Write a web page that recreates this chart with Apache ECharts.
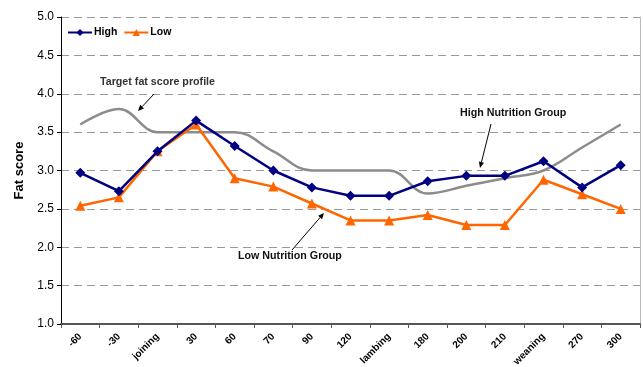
<!DOCTYPE html>
<html>
<head>
<meta charset="utf-8">
<script src="https://cdn.jsdelivr.net/npm/echarts@6/dist/echarts.min.js"></script>
<style>
html,body{margin:0;padding:0;background:#fff;}
#c{width:643px;height:367px;}
</style>
</head>
<body>
<div id="c"></div>
<script>
const categories = ['-60','-30','joining','30','60','70','90','120','lambing','180','200','210','weaning','270','300'];
const highValues = [2.97, 2.73, 3.25, 3.65, 3.32, 3.00, 2.78, 2.67, 2.67, 2.86, 2.93, 2.93, 3.12, 2.78, 3.07];
const lowValues  = [2.54, 2.65, 3.25, 3.60, 2.90, 2.79, 2.57, 2.35, 2.35, 2.42, 2.29, 2.29, 2.88, 2.69, 2.50];
const targetValues = [3.60, 3.80, 3.50, 3.50, 3.50, 3.25, 3.00, 3.00, 3.00, 2.70, 2.80, 2.90, 3.00, 3.30, 3.60];
const yTicks = ['1.0','1.5','2.0','2.5','3.0','3.5','4.0','4.5','5.0'];

const FONT = '"Liberation Sans", Arial, sans-serif';

function arrow(x1, y1, x2, y2) {
  const ang = Math.atan2(y2 - y1, x2 - x1);
  const L = 6, W = 2.6;
  const bx = x2 - L * Math.cos(ang), by = y2 - L * Math.sin(ang);
  const px = -Math.sin(ang) * W, py = Math.cos(ang) * W;
  return [
    { type: 'line', shape: { x1: x1, y1: y1, x2: bx, y2: by }, style: { stroke: '#000', lineWidth: 1 }, z: 100 },
    { type: 'polygon', shape: { points: [[x2, y2], [bx + px, by + py], [bx - px, by - py]] }, style: { fill: '#000' }, z: 100 }
  ];
}

const chart = echarts.init(document.getElementById('c'), null, { renderer: 'canvas' });
chart.setOption({
  animation: false,
  backgroundColor: '#fff',
  textStyle: { fontFamily: FONT },
  grid: { left: 61, right: 3, top: 17, bottom: 43, containLabel: false, outerBoundsMode: 'none', show: false },
  legend: {
    data: ['High', 'Low'],
    left: 67, top: 27, padding: 0,
    itemWidth: 24, itemHeight: 9, itemGap: 6,
    textStyle: { fontFamily: FONT, fontWeight: 'bold', fontSize: 10.5, color: '#000', padding: [0, 0, 0, -3] }
  },
  xAxis: {
    type: 'category',
    data: categories,
    boundaryGap: true,
    axisLine: { lineStyle: { color: '#555', width: 2 } },
    axisTick: { show: true, alignWithLabel: false, length: 4, lineStyle: { color: '#555', width: 1 } },
    axisLabel: { rotate: 45, fontSize: 10, fontWeight: 'bold', color: '#000', fontFamily: FONT, margin: 11, interval: 0 },
    splitLine: { show: false }
  },
  yAxis: [{
    type: 'value',
    min: 1, max: 5, interval: 0.5,
    name: 'Fat score',
    nameLocation: 'middle',
    nameGap: 32,
    nameTextStyle: { fontFamily: FONT, fontWeight: 'bold', fontSize: 13, color: '#000' },
    axisLine: { show: true, lineStyle: { color: '#000', width: 1 } },
    axisTick: { show: true, length: 4, lineStyle: { color: '#000' } },
    axisLabel: { fontSize: 12, color: '#000', fontFamily: FONT, margin: 7,
      formatter: function (v) { return yTicks[Math.round((v - 1) / 0.5)]; } },
    splitLine: { show: true, lineStyle: { color: '#999', type: [8, 5], width: 1 } }
  }, {
    type: 'value', min: 1, max: 5, interval: 0.5, position: 'right',
    axisLine: { show: true, lineStyle: { color: '#bbb', width: 1 } },
    axisTick: { show: false }, axisLabel: { show: false }, splitLine: { show: false }
  }],
  series: [
    {
      name: 'Target', type: 'line', data: targetValues, smooth: 0.4,
      symbol: 'none', lineStyle: { color: '#8c8c8c', width: 2.5 }, itemStyle: { color: '#8c8c8c' }, z: 1
    },
    {
      name: 'High', type: 'line', data: highValues,
      symbol: 'diamond', symbolSize: 10,
      lineStyle: { color: '#000080', width: 2.5 }, itemStyle: { color: '#000080' }, z: 3
    },
    {
      name: 'Low', type: 'line', data: lowValues,
      symbol: 'triangle', symbolSize: 10,
      lineStyle: { color: '#ff6600', width: 2.5 }, itemStyle: { color: '#ff6600' }, z: 2
    }
  ],
  graphic: [
    { type: 'text', left: 100, top: 77, style: { text: 'Target fat score profile', fontFamily: FONT, fontWeight: 'bold', fontSize: 10.7, fill: '#333' }, z: 100 },
    { type: 'text', left: 460, top: 108, style: { text: 'High Nutrition Group', fontFamily: FONT, fontWeight: 'bold', fontSize: 10.7, fill: '#111' }, z: 100 },
    { type: 'text', left: 238, top: 251, style: { text: 'Low Nutrition Group', fontFamily: FONT, fontWeight: 'bold', fontSize: 10.7, fill: '#111' }, z: 100 }
  ].concat(arrow(154, 94, 138, 111), arrow(491, 124, 480, 168), arrow(292, 250, 324, 213))
});
</script>
</body>
</html>
